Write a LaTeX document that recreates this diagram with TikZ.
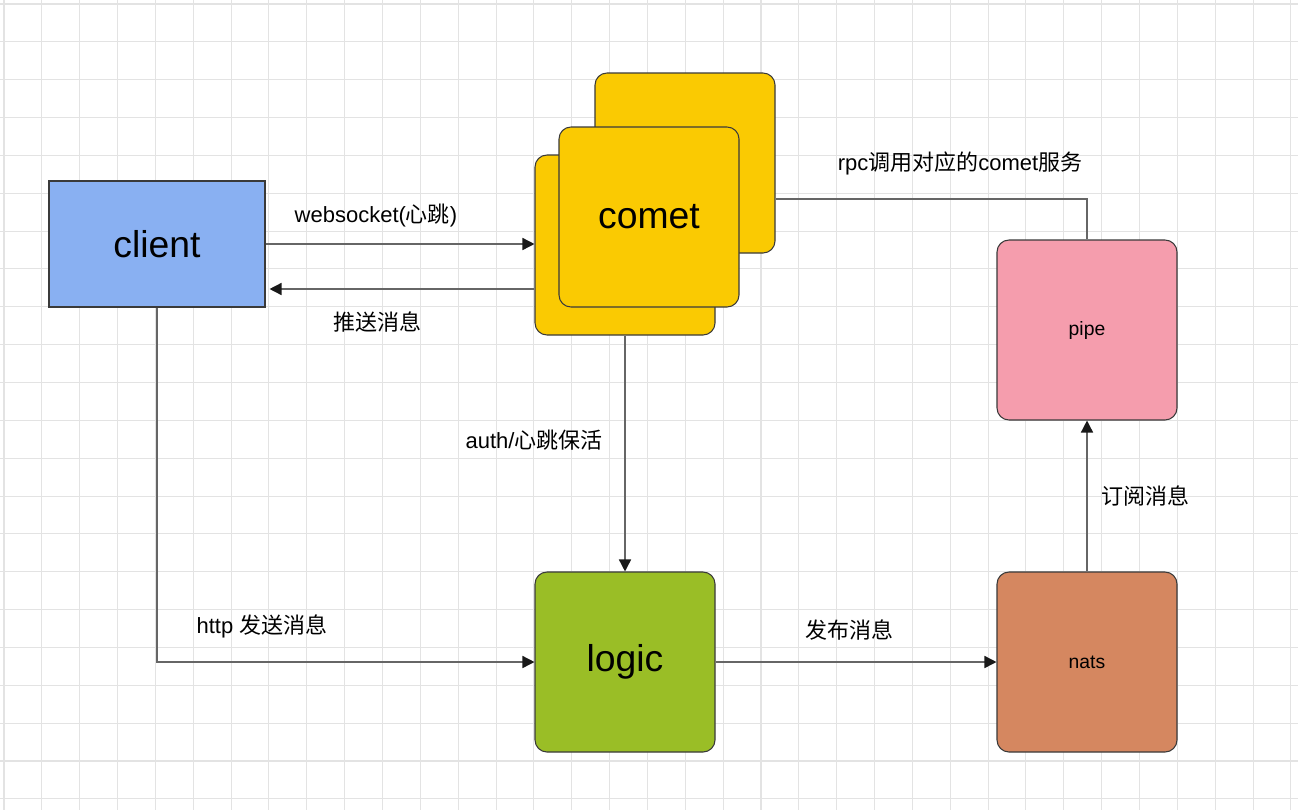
\documentclass[tikz,border=0pt]{standalone}
\usepackage{fontspec}
\setmainfont{Liberation Sans}
\newfontfamily\cjk{Noto Sans CJK SC}
\usetikzlibrary{arrows.meta}

\definecolor{clientblue}{HTML}{89B0F2}
\definecolor{cometyellow}{HTML}{FACA02}
\definecolor{pipepink}{HTML}{F59DAD}
\definecolor{logicgreen}{HTML}{9ABE26}
\definecolor{natsbrown}{HTML}{D58760}
\definecolor{boxline}{HTML}{3A3A3A}
\definecolor{linkgray}{HTML}{666666}
\definecolor{gridgray}{HTML}{E3E3E3}

\tikzset{
  box/.style={draw=boxline,line width=0.8pt,rounded corners=9pt,minimum width=135pt,minimum height=135pt,inner sep=0pt},
  bigtext/.style={font=\fontsize{28}{32}\selectfont,text=black},
  smalltext/.style={font=\fontsize{14.5}{17}\selectfont,text=black},
  lbl/.style={font=\fontsize{16.5}{20}\selectfont,text=black,inner sep=0pt},
  link/.style={draw=linkgray,line width=1.1pt},
  arr/.style={link,-{Triangle[length=9pt,width=9pt,color=black!90]}},
  gridline/.style={draw=gridgray,line width=0.8pt}
}

\begin{document}
\begin{tikzpicture}[x=0.75pt,y=-0.75pt]
  \useasboundingbox (0,0) rectangle (1298,810);
  \fill[white] (0,0) rectangle (1298,810);
  % grid
  \foreach \i in {0,...,34}
    \draw[gridline] ({4+37.85*\i},0) -- ({4+37.85*\i},810);
  \foreach \j in {0,...,21}
    \draw[gridline] (0,{4+37.85*\j}) -- (1298,{4+37.85*\j});

  % boxes
  \node[box,bigtext,rounded corners=0pt,fill=clientblue,minimum width=162pt,minimum height=94.5pt] (client) at (157,244) {client};
  \node[box,fill=cometyellow] (cometb) at (685,163) {};
  \node[box,fill=cometyellow] (cometl) at (625,245) {};
  \node[box,bigtext,fill=cometyellow] (comet) at (649,217) {comet};
  \node[box,smalltext,fill=pipepink] (pipe) at (1087,330) {pipe};
  \node[box,bigtext,fill=logicgreen] (logic) at (625,662) {logic};
  \node[box,smalltext,fill=natsbrown] (nats) at (1087,662) {nats};

  % connectors
  \coordinate (push) at ([yshift=-33pt]cometl.west);
  \coordinate (rpc) at ([yshift=-27pt]cometb.east);
  \draw[arr] (client.east) -- (client.east -| cometl.west);
  \draw[arr,shorten >=3pt] (push) -- (push -| client.east);
  \draw[arr] (cometl.south) -- (logic.north);
  \draw[arr] (client.south) |- (logic.west);
  \draw[arr] (logic.east) -- (nats.west);
  \draw[arr] (nats.north) -- (pipe.south);
  \draw[link] (pipe.north) |- (rpc);

  % labels
  \node[lbl] (wslbl) at (376,216) {websocket({\cjk 心跳})};
  \node[lbl] (pushlbl) at (377,322) {\cjk 推送消息};
  \node[lbl] (authlbl) at (534,440) {auth/{\cjk 心跳保活}};
  \node[lbl] (httplbl) at (262,626) {http {\cjk 发送消息}};
  \node[lbl] (publbl) at (849,630) {\cjk 发布消息};
  \node[lbl] (sublbl) at (1145,496) {\cjk 订阅消息};
  \node[lbl] (rpclbl) at (960,163) {rpc{\cjk 调用对应的}comet{\cjk 服务}};
\end{tikzpicture}
\end{document}
